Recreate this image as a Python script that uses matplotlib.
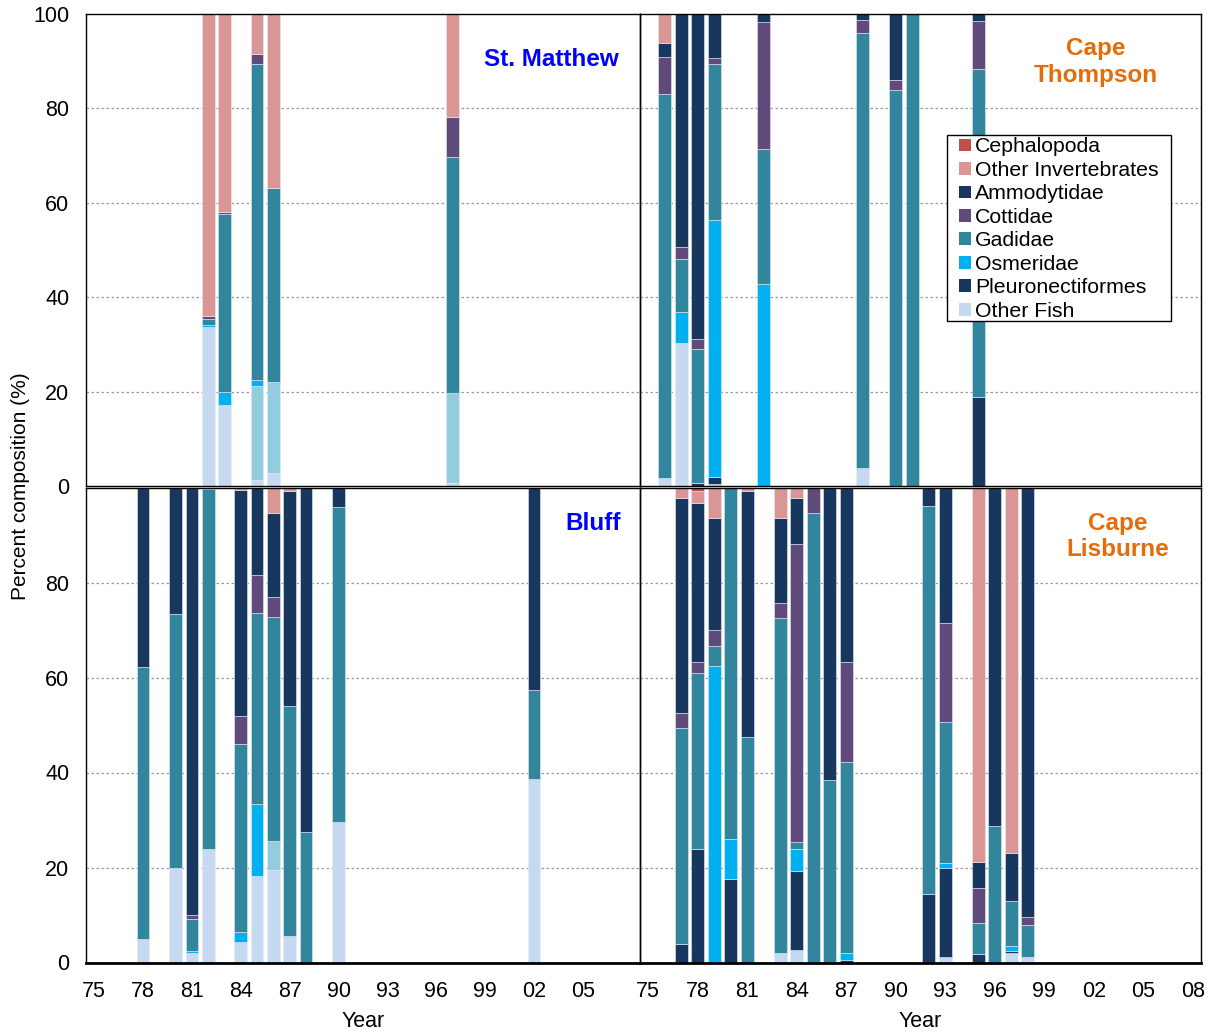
import matplotlib
matplotlib.use("Agg")
import matplotlib.pyplot as plt
from matplotlib.patches import Patch, Rectangle

W, H = 1209, 1035

# stack order, bottom to top
SERIES = ["Other Fish", "_unlisted", "Pleuronectiformes", "Osmeridae", "Gadidae",
          "Cottidae", "Ammodytidae", "Other Invertebrates", "Cephalopoda"]
COLORS = ["#C6D9F1", "#93CDDD", "#17375E", "#00B0F0", "#31859C",
          "#604A7B", "#17375E", "#DA9694", "#C0504D"]

# St. Matthew
stm_years = [1982, 1983, 1985, 1986, 1997]
stm_other_fish = [33.7, 17.2, 1.3, 2.7, 0.6]
stm_unlisted = [0, 0, 19.9, 19.4, 19.0]
stm_pleuro = [0, 0, 0, 0, 0]
stm_osmeridae = [0.4, 2.8, 1.3, 0, 0]
stm_gadidae = [1.3, 37.7, 67.0, 41.1, 50.2]
stm_cottidae = [0.7, 0.4, 2.0, 0, 8.4]
stm_ammodytidae = [0, 0, 0, 0, 0]
stm_other_inv = [63.9, 41.9, 8.5, 36.8, 21.8]
stm_cephalopoda = [0, 0, 0, 0, 0]

# Cape Thompson
thm_years = [1976, 1977, 1978, 1979, 1982, 1988, 1990, 1991, 1995]
thm_other_fish = [1.6, 30.4, 0, 0.4, 0, 3.9, 0, 0, 0]
thm_unlisted = [0, 0, 0, 0, 0, 0, 0, 0, 0]
thm_pleuro = [0, 0, 0.7, 1.6, 0, 0, 0, 0, 18.9]
thm_osmeridae = [0, 6.4, 0, 54.4, 42.9, 0, 0, 0, 0]
thm_gadidae = [81.4, 11.2, 28.3, 33.1, 28.6, 92.0, 83.8, 100, 69.4]
thm_cottidae = [7.8, 2.7, 2.1, 1.1, 26.9, 2.8, 2.2, 0, 10.3]
thm_ammodytidae = [3.1, 49.3, 68.9, 9.4, 1.6, 1.3, 14.0, 0, 1.4]
thm_other_inv = [6.1, 0, 0, 0, 0, 0, 0, 0, 0]
thm_cephalopoda = [0, 0, 0, 0, 0, 0, 0, 0, 0]

# Bluff
blf_years = [1978, 1980, 1981, 1982, 1984, 1985, 1986, 1987, 1988, 1990, 2002]
blf_other_fish = [4.9, 20.0, 2.1, 24.0, 4.3, 18.2, 19.5, 5.6, 0, 29.5, 38.6]
blf_unlisted = [0, 0, 0, 0, 0, 0, 6.1, 0, 0, 0, 0]
blf_pleuro = [0, 0, 0, 0, 0, 0, 0, 0, 0, 0, 0]
blf_osmeridae = [0, 0, 0.3, 0, 2.1, 15.1, 0, 0, 0, 0, 0]
blf_gadidae = [57.4, 53.3, 6.8, 75.6, 39.7, 40.3, 47.1, 48.5, 27.5, 66.3, 18.8]
blf_cottidae = [0, 0, 0.8, 0.4, 5.8, 8.0, 4.2, 0, 0, 0, 0]
blf_ammodytidae = [37.7, 26.7, 90.0, 0, 47.6, 18.4, 17.8, 45.2, 72.5, 4.2, 42.6]
blf_other_inv = [0, 0, 0, 0, 0.5, 0, 5.3, 0.7, 0, 0, 0]
blf_cephalopoda = [0, 0, 0, 0, 0, 0, 0, 0, 0, 0, 0]

# Cape Lisburne
lis_years = [1977, 1978, 1979, 1980, 1981, 1983, 1984, 1985, 1986, 1987,
             1992, 1993, 1995, 1996, 1997, 1998]
lis_other_fish = [0, 0, 0, 0, 0, 1.9, 2.6, 0, 0, 0, 0, 1.1, 0, 0, 1.9, 1.1]
lis_unlisted = [0] * 16
lis_pleuro = [4.0, 23.8, 0, 17.5, 0, 0, 16.7, 0, 0, 0.5, 14.4, 18.7, 1.7, 0, 0.5, 0]
lis_osmeridae = [0, 0, 62.5, 8.6, 0, 0, 4.7, 0, 0, 1.4, 0, 1.1, 0, 0, 1.1, 0]
lis_gadidae = [45.3, 37.1, 4.2, 73.9, 47.4, 70.6, 1.3, 94.6, 38.4, 40.4,
               81.7, 29.7, 6.6, 28.7, 9.4, 6.8]
lis_cottidae = [3.2, 2.3, 3.2, 0, 0, 3.1, 62.8, 5.4, 0, 20.9, 0, 20.8, 7.3, 0, 0, 1.7]
lis_ammodytidae = [45.2, 33.6, 23.7, 0, 51.9, 17.9, 9.6, 0, 61.6, 36.8,
                   3.9, 28.6, 5.5, 71.3, 10.1, 90.4]
lis_other_inv = [2.3, 2.5, 6.4, 0, 0.7, 6.5, 2.3, 0, 0, 0, 0, 0, 78.9, 0, 77.0, 0]
lis_cephalopoda = [0, 0.7, 0, 0, 0, 0, 0, 0, 0, 0, 0, 0, 0, 0, 0, 0]

plt.rcParams.update({"font.family": ["Liberation Sans", "DejaVu Sans"],
                     "font.size": 15})

fig = plt.figure(figsize=(W / 100, H / 100), dpi=100)


def add_ax(x0, y0, x1, y1):
    return fig.add_axes([x0 / W, 1 - y1 / H, (x1 - x0) / W, (y1 - y0) / H])


def draw(ax, years, stacks, show_y, y_labels, show_x, x_ticks):
    bottom = [0.0] * len(years)
    for vals, col in zip(stacks, COLORS):
        ax.bar(years, vals, width=0.78, bottom=bottom, color=col,
               edgecolor="#e4ecf5", linewidth=0.4, zorder=2)
        bottom = [b + v for b, v in zip(bottom, vals)]
    ax.set_xlim(1974.5, 2008.5)
    ax.set_ylim(0, 100)
    ax.set_yticks([0, 20, 40, 60, 80, 100])
    for y in (20, 40, 60, 80):
        ax.axhline(y, color="#9a9a9a", lw=0.9, ls=(0, (2, 2)), zorder=1)
    ax.set_xticks(x_ticks)
    ax.set_xticklabels([f"{t % 100:02d}" for t in x_ticks] if show_x else [])
    if show_y:
        ax.set_yticklabels(y_labels)
    else:
        ax.set_yticklabels([])
    ax.tick_params(axis="x", length=0, pad=13, labelsize=15.5)
    ax.tick_params(axis="y", length=0, pad=12, labelsize=15.5)
    for s in ax.spines.values():
        s.set_color("black")
        s.set_linewidth(1.0)
    ax.set_facecolor("none")


xt_left = list(range(1975, 2006, 3))
xt_right = list(range(1975, 2009, 3))

ax_stm = add_ax(86, 14, 640, 486)
ax_thm = add_ax(640, 14, 1201, 486)
ax_blf = add_ax(86, 487.5, 640, 962.5)
ax_lis = add_ax(640, 487.5, 1201, 962.5)

ylab_full = ["0", "20", "40", "60", "80", "100"]
ylab_low = ["0", "20", "40", "60", "80", ""]

draw(ax_stm, stm_years,
     [stm_other_fish, stm_unlisted, stm_pleuro, stm_osmeridae, stm_gadidae,
      stm_cottidae, stm_ammodytidae, stm_other_inv, stm_cephalopoda],
     True, ylab_full, False, xt_left)
draw(ax_thm, thm_years,
     [thm_other_fish, thm_unlisted, thm_pleuro, thm_osmeridae, thm_gadidae,
      thm_cottidae, thm_ammodytidae, thm_other_inv, thm_cephalopoda],
     False, None, False, xt_right)
draw(ax_blf, blf_years,
     [blf_other_fish, blf_unlisted, blf_pleuro, blf_osmeridae, blf_gadidae,
      blf_cottidae, blf_ammodytidae, blf_other_inv, blf_cephalopoda],
     True, ylab_low, True, xt_left)
draw(ax_lis, lis_years,
     [lis_other_fish, lis_unlisted, lis_pleuro, lis_osmeridae, lis_gadidae,
      lis_cottidae, lis_ammodytidae, lis_other_inv, lis_cephalopoda],
     False, None, True, xt_right)

for ax in (ax_blf, ax_lis):
    ax.spines["bottom"].set_linewidth(2.0)
ax_blf.set_xlabel("Year", fontsize=15.5, labelpad=7)
ax_lis.set_xlabel("Year", fontsize=15.5, labelpad=7)

BLUE, ORANGE = "#0000FF", "#E46C0A"
ax_stm.text(0.84, 0.903, "St. Matthew", transform=ax_stm.transAxes, color=BLUE,
            fontsize=17.5, weight="bold", ha="center", va="center")
ax_thm.text(0.812, 0.898, "Cape\nThompson", transform=ax_thm.transAxes, color=ORANGE,
            fontsize=17.5, weight="bold", ha="center", va="center", linespacing=1.2)
ax_blf.text(0.915, 0.925, "Bluff", transform=ax_blf.transAxes, color=BLUE,
            fontsize=17.5, weight="bold", ha="center", va="center")
ax_lis.text(0.852, 0.897, "Cape\nLisburne", transform=ax_lis.transAxes, color=ORANGE,
            fontsize=17.5, weight="bold", ha="center", va="center", linespacing=1.2)

fig.text(21 / W, 1 - 486 / H, "Percent composition (%)", rotation=90,
         ha="center", va="center", fontsize=15)

# legend box drawn by hand so the side padding can differ from the top padding
ax_thm.add_artist(Rectangle((947 / W, 1 - 321 / H), 224 / W, 186 / H,
                            transform=fig.transFigure, facecolor="white",
                            edgecolor="black", linewidth=1.0, zorder=4))
handles = [Patch(facecolor=COLORS[i], edgecolor="none", label=SERIES[i])
           for i in range(len(SERIES) - 1, -1, -1) if not SERIES[i].startswith("_")]
leg = ax_thm.legend(handles=handles, loc="upper left",
                    bbox_to_anchor=(959 / W, 1 - 137.5 / H),
                    bbox_transform=fig.transFigure, frameon=False,
                    fontsize=15.3, handlelength=0.55, handleheight=0.55,
                    handletextpad=0.2, labelspacing=0.21, borderpad=0.0,
                    borderaxespad=0)
leg.set_zorder(5)

fig.savefig("out.png", dpi=100)
